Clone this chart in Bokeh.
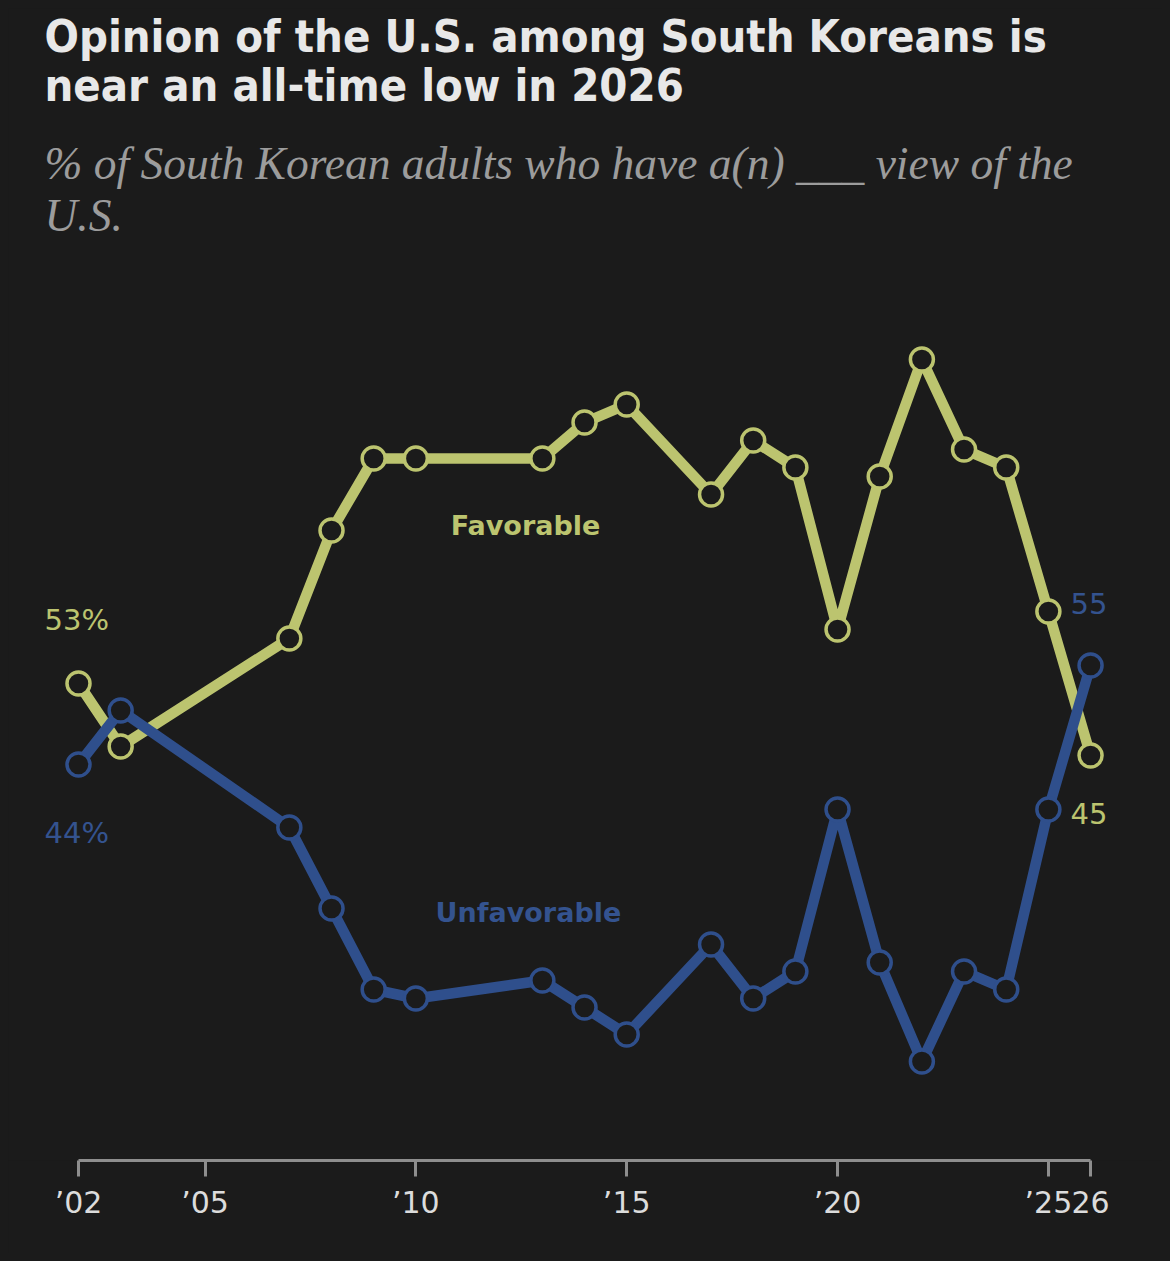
from bokeh.plotting import figure
from bokeh.models import FixedTicker, Range1d
from bokeh.core.properties import value
from bokeh.embed import file_html
from bokeh.resources import INLINE

# ---- data -------------------------------------------------------------
years = [2002, 2003, 2007, 2008, 2009, 2010, 2013, 2014, 2015, 2017,
         2018, 2019, 2020, 2021, 2022, 2023, 2024, 2025, 2026]
favorable = [53, 46, 58, 70, 78, 78, 78, 82, 84, 74,
             80, 77, 59, 76, 89, 79, 77, 61, 45]
unfavorable = [44, 50, 37, 28, 19, 18, 20, 17, 14, 24,
               18, 21, 39, 22, 11, 21, 19, 39, 55]
tick_years = [2002, 2005, 2010, 2015, 2020, 2025, 2026]
tick_labels = ["\u201902", "\u201905", "\u201910", "\u201915", "\u201920", "\u201925", "26"]
title_lines = ["Opinion of the U.S. among South Koreans is",
               "near an all-time low in 2026"]
subtitle_lines = ["% of South Korean adults who have a(n) ___ view of the",
                  "U.S."]

# ---- style ------------------------------------------------------------
BG = "#1b1b1b"
OLIVE = "#bcc46f"
BLUE = "#2f4f8c"
BLUE_TXT = "#34538f"
AXIS = "#8e8e8e"
SANS = "DejaVu Sans"
TITLE_FONT = "DejaVu Sans Condensed"
SERIF = "Liberation Serif"

p = figure(width=1154, height=1245,
           x_range=Range1d(2000.340, 2027.706), y_range=Range1d(0, 128),
           output_backend="svg", toolbar_location=None,
           y_axis_location=None,
           min_border_left=0, min_border_right=0, min_border_top=0,
           min_border_bottom=93,
           background_fill_color=BG, border_fill_color=BG,
           outline_line_color=None)
p.grid.visible = False

# x axis
ax = p.xaxis[0]
ax.ticker = FixedTicker(ticks=tick_years)
ax.major_label_overrides = {y: l for y, l in zip(tick_years, tick_labels)}
ax.bounds = (tick_years[0], tick_years[-1])
ax.axis_line_color = AXIS
ax.axis_line_width = 3
ax.major_tick_line_color = AXIS
ax.major_tick_line_width = 3
ax.major_tick_in = 0
ax.major_tick_out = 16
ax.minor_tick_line_color = None
ax.major_label_standoff = 8
ax.major_label_text_font = SANS
ax.major_label_text_font_size = "30px"
ax.major_label_text_color = "#dcdcdc"

# lines and markers
p.line(years, favorable, line_width=10.5, line_color=OLIVE, line_join="round")
p.line(years, unfavorable, line_width=10.5, line_color=BLUE, line_join="round")
p.scatter(years, favorable, size=23, fill_color=BG, line_color=OLIVE, line_width=3.5)
p.scatter(years, unfavorable, size=23, fill_color=BG, line_color=BLUE, line_width=3.5)

# end labels
p.text(x=[2001.194], y=[60.1], text=[f"{favorable[0]}%"], text_color=OLIVE,
       text_font=value(SANS), text_font_size="29px", text_baseline="middle", text_align="left")
p.text(x=[2001.194], y=[36.4], text=[f"{unfavorable[0]}%"], text_color=BLUE_TXT,
       text_font=value(SANS), text_font_size="29px", text_baseline="middle", text_align="left")
p.text(x=[2025.524], y=[61.9], text=[f"{unfavorable[-1]}"], text_color=BLUE_TXT,
       text_font=value(SANS), text_font_size="29px", text_baseline="middle", text_align="left")
p.text(x=[2025.524], y=[38.6], text=[f"{favorable[-1]}"], text_color=OLIVE,
       text_font=value(SANS), text_font_size="29px", text_baseline="middle", text_align="left")

# series labels
p.text(x=[2012.60], y=[70.56], text=["Favorable"], text_color=OLIVE,
       text_font=value(SANS), text_font_style="bold", text_font_size="27px",
       text_baseline="middle", text_align="center")
p.text(x=[2012.67], y=[27.56], text=["Unfavorable"], text_color=BLUE_TXT,
       text_font=value(SANS), text_font_style="bold", text_font_size="27px",
       text_baseline="middle", text_align="center")

# title and subtitle
p.text(x=[2001.194, 2001.194], y=[124.9, 119.45], text=title_lines,
       text_color="#e8e8e8", text_font=value(TITLE_FONT), text_font_style="bold",
       text_font_size="45px", text_baseline="alphabetic", text_align="left")
p.text(x=[2001.194, 2001.194], y=[110.8, 105.0], text=subtitle_lines,
       text_color="#9c9c9c", text_font=value(SERIF), text_font_style="italic",
       text_font_size="45.5px", text_baseline="alphabetic", text_align="left")

html = file_html(p, INLINE)
html = html.replace("</head>", "<style>body{background:#1b1b1b;margin:8px;}</style></head>", 1)
open("out.html", "w").write(html)
